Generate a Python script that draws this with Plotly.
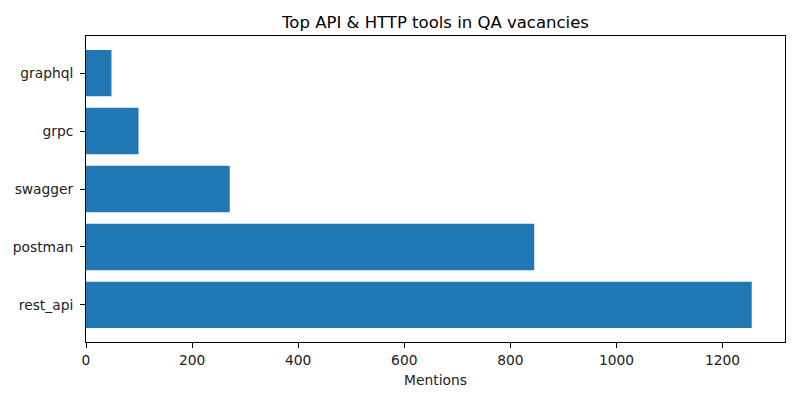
import plotly.graph_objects as go

# data (bottom to top)
tools = ["rest_api", "postman", "swagger", "grpc", "graphql"]
mentions = [1255, 845, 271, 99, 48]
x_ticks = [0, 200, 400, 600, 800, 1000, 1200]

fig = go.Figure()
fig.add_trace(go.Bar(
    x=mentions, y=tools, orientation="h",
    marker=dict(color="#1f77b4", line=dict(width=0)),
))

axis_style = dict(showline=True, linecolor="black", linewidth=1, mirror=True,
                  ticks="outside", ticklen=5, tickwidth=1, tickcolor="black",
                  showgrid=False, zeroline=False, automargin=False,
                  tickfont=dict(family="DejaVu Sans", size=13.8, color="#222"))

fig.update_xaxes(range=[0, max(mentions) * 1.05], tickvals=x_ticks,
                 title=dict(text="Mentions", font=dict(family="DejaVu Sans", size=13.8, color="#222"),
                            standoff=8),
                 **axis_style)
fig.update_yaxes(categoryorder="array", categoryarray=tools, range=[-0.64, 4.64],
                 ticklabelstandoff=4, **axis_style)

fig.update_layout(
    title=dict(text="Top API & HTTP tools in QA vacancies", xref="paper", x=0.5,
               xanchor="center", y=0.945, yanchor="middle",
               font=dict(family="DejaVu Sans", size=16.5, color="black")),
    width=800, height=400,
    margin=dict(l=86, r=15, t=36, b=58),
    bargap=0.2,
    plot_bgcolor="white", paper_bgcolor="white",
    showlegend=False,
)

# drop the page's default body margin so the figure sits at the window corner
fig.write_html("out.html", config={"displayModeBar": False},
               post_script="document.body.style.margin='0';")
